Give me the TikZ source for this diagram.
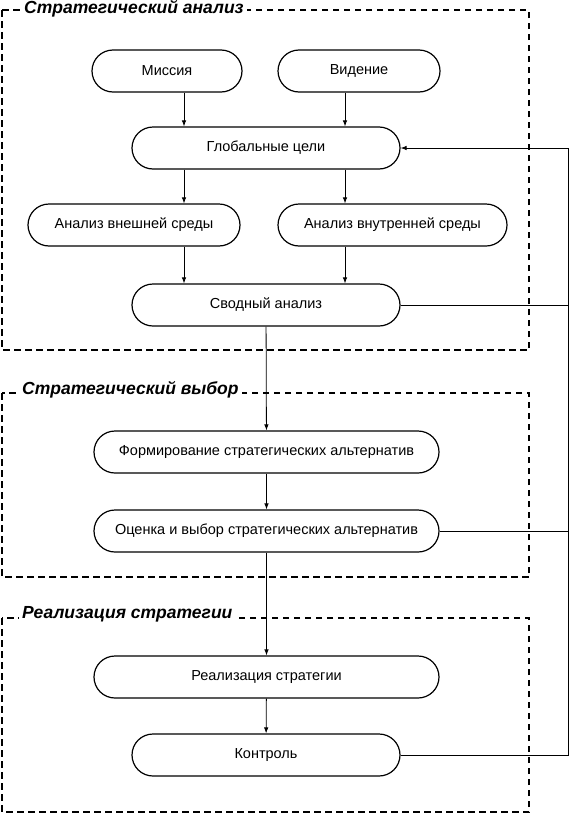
\documentclass[tikz,border=0pt]{standalone}
\usepackage{fontspec}
\setmainfont{Liberation Sans}
\usetikzlibrary{arrows.meta,positioning}

\tikzset{
  pill/.style={draw, line width=1.2pt, rounded corners=21pt, minimum height=42pt,
    font=\fontsize{14.5}{16}\selectfont},
  frame/.style={line width=1.4pt, dash pattern=on 6.5pt off 4.5pt},
  frametitle/.style={fill=white, anchor=west, inner sep=3pt,
    font=\fontsize{17.5}{19}\selectfont\bfseries\itshape},
  arr/.style={-{Latex[length=6pt,width=4.5pt]}, line width=0.8pt},
  fb/.style={line width=0.8pt}
}

\begin{document}
\begin{tikzpicture}[x=1pt,y=-1pt]
    \useasboundingbox (0,0) rectangle (570,814);

    % Frames
    \draw[frame] (2,10) rectangle (529,350);
    \node[frametitle] (t1) at (21,9) {Стратегический анализ};
    \draw[frame] (2,393) rectangle (529,577);
    \node[frametitle] (t2) at (19,390) {Стратегический выбор};
    \draw[frame] (2,618) rectangle (529,812);
    \node[frametitle] (t3) at (19,614) {Реализация стратегии};

    % Strategic analysis
    \node[pill, minimum width=150pt] (mis) at (167,71) {Миссия};
    \node[pill, minimum width=162pt] (vid) at (359,71) {Видение};
    \node[pill, minimum width=268pt] (gl) at (266,148) {Глобальные цели};
    \node[pill, minimum width=212pt] (ext) at (134,225) {Анализ внешней среды};
    \node[pill, minimum width=229pt] (int) at (392.5,225) {Анализ внутренней среды};
    \node[pill, minimum width=268pt] (sum) at (266,305) {Сводный анализ};

    % Strategic choice
    \node[pill, minimum width=345pt] (form) at (266.5,452) {Формирование стратегических альтернатив};
    \node[pill, minimum width=345pt] (eval) at (266.5,531) {Оценка и выбор стратегических альтернатив};

    % Implementation
    \node[pill, minimum width=345pt] (impl) at (266.5,677) {Реализация стратегии};
    \node[pill, minimum width=268pt] (ctrl) at (266,755) {Контроль};

    % Arrows
    \coordinate (c1) at (184,0);
    \coordinate (c2) at (345,0);
    \coordinate (fx) at (568,0);
    \draw[arr] (mis.south -| c1) -- (gl.north -| c1);
    \draw[arr] (vid.south -| c2) -- (gl.north -| c2);
    \draw[arr] (gl.south -| c1) -- (ext.north -| c1);
    \draw[arr] (gl.south -| c2) -- (int.north -| c2);
    \draw[arr] (ext.south -| c1) -- (sum.north -| c1);
    \draw[arr] (int.south -| c2) -- (sum.north -| c2);
    \draw[arr] (sum) -- (form);
    \draw[arr] (form) -- (eval);
    \draw[arr] (eval) -- (impl);
    \draw[arr] (impl) -- (ctrl);

    % Feedback
    \draw[fb] (sum.east) -- (sum.east -| fx);
    \draw[fb] (eval.east) -- (eval.east -| fx);
    \draw[fb] (ctrl.east) -- (ctrl.east -| fx) -- (gl.east -| fx);
    \draw[arr] (gl.east -| fx) -- (gl.east);
\end{tikzpicture}
\end{document}
